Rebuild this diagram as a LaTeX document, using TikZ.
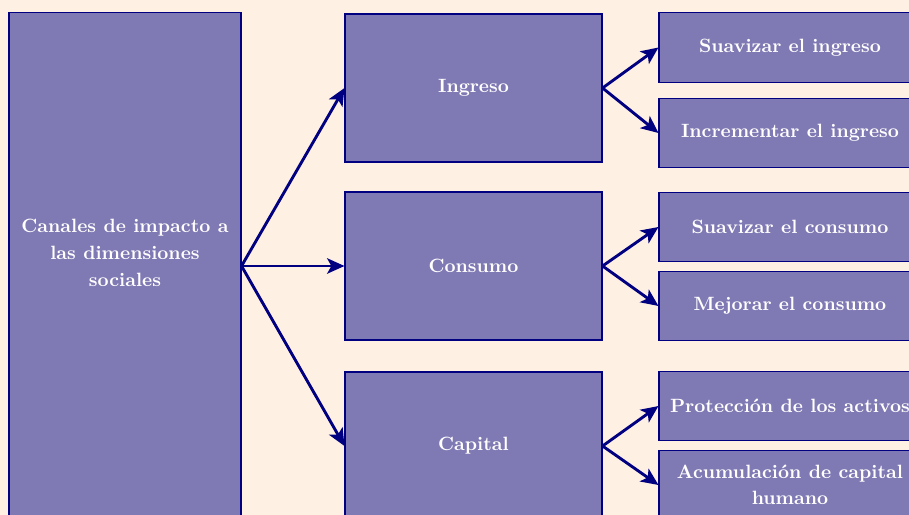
\documentclass[tikz,border=0pt]{standalone}
\usetikzlibrary{arrows.meta}
\definecolor{bgcream}{RGB}{254,241,227}
\definecolor{boxfill}{RGB}{128,122,180}
\definecolor{edgenavy}{RGB}{0,0,128}
\begin{document}
\begin{tikzpicture}[x=0.52pt,y=-0.52pt,
  box/.style={draw=edgenavy,line width=0.6pt,fill=boxfill,text=white,font=\bfseries\fontsize{10}{13.6}\selectfont,align=center,inner sep=0pt},
  bigbox/.style={box,minimum width=120.6pt,minimum height=264pt},
  midbox/.style={box,minimum width=133.6pt,minimum height=77pt},
  smallbox/.style={box,minimum width=136.2pt,minimum height=36pt},
  plaintext/.style={text=white,font=\bfseries\fontsize{10}{13.9}\selectfont,align=center,inner sep=0pt},
  conn/.style={draw=edgenavy,line width=1.5pt,-{Stealth[length=9pt,width=8pt,inset=2.2pt]}}]
\fill[bgcream] (0,0) rectangle (909,515);
\useasboundingbox (0,0) rectangle (909,515);
\clip (0,0) rectangle (909,515);
\node[bigbox] (root) at (125,266) {};
\node[plaintext] (roottext) at (125,253) {Canales de impacto a\\las dimensiones\\sociales};
\node[midbox] (ing) at (473.5,88) {Ingreso};
\node[midbox] (con) at (473.5,266) {Consumo};
\node[midbox] (cap) at (473.5,446) {Capital};
\node[smallbox] (s1) at (790,47.5) {Suavizar el ingreso};
\node[smallbox] (s2) at (790,133) {Incrementar el ingreso};
\node[smallbox] (s3) at (790,227) {Suavizar el consumo};
\node[smallbox] (s4) at (790,306) {Mejorar el consumo};
\node[smallbox] (s5) at (790,406) {Protección de los activos};
\node[smallbox] (s6) at (790,485) {Acumulación de capital\\humano};
\draw[conn] (root.east) -- (ing.west);
\draw[conn] (root.east) -- (con.west);
\draw[conn] (root.east) -- (cap.west);
\draw[conn] (ing.east) -- (s1.west);
\draw[conn] (ing.east) -- (s2.west);
\draw[conn] (con.east) -- (s3.west);
\draw[conn] (con.east) -- (s4.west);
\draw[conn] (cap.east) -- (s5.west);
\draw[conn] (cap.east) -- (s6.west);
\end{tikzpicture}
\end{document}
